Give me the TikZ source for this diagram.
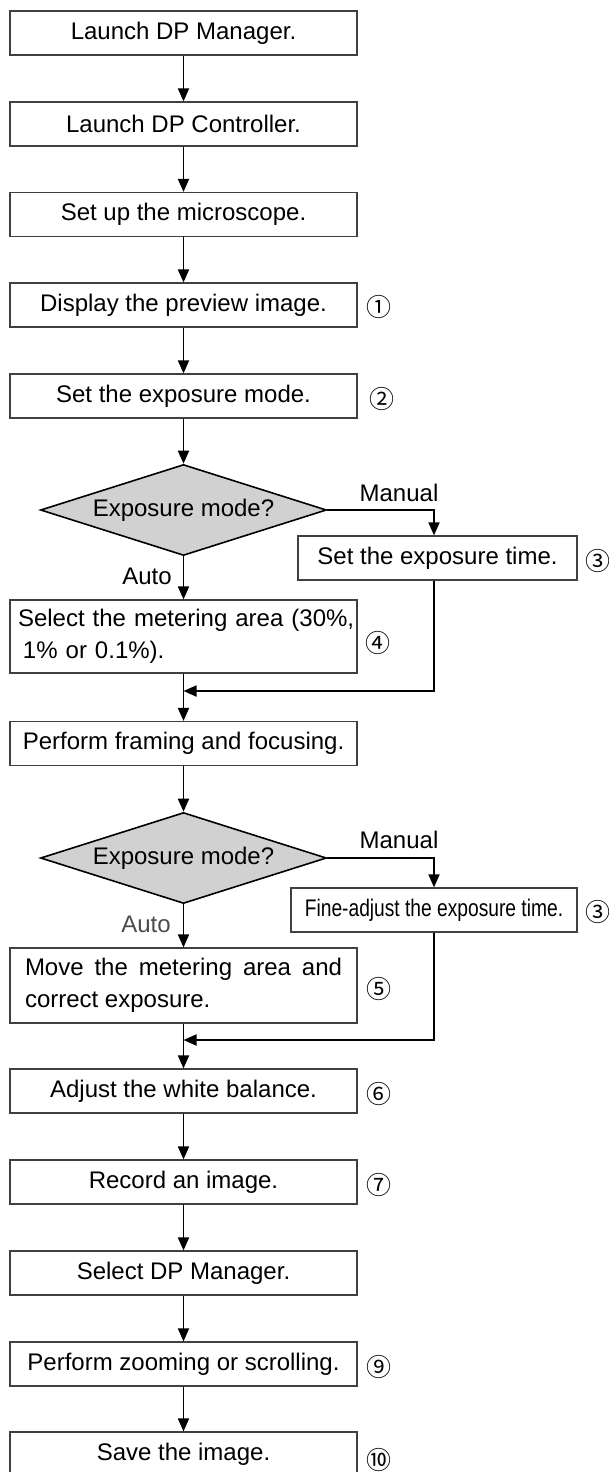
\documentclass[tikz,border=0pt]{standalone}
\usepackage{fontspec}
\setmainfont{Liberation Sans}
\newfontfamily\circfont{Noto Sans CJK JP}
\newfontfamily\condfont[FakeStretch=0.8]{Liberation Sans}
\usetikzlibrary{arrows.meta,shapes.geometric}
\tikzset{
  stepbox/.style={draw=black!75, line width=1.2pt, fill=white, minimum width=347pt, minimum height=44pt, inner sep=0pt, align=center},
  sidebox/.style={draw=black!75, line width=1.2pt, fill=white, minimum height=44pt, inner sep=0pt, align=center},
  decide/.style={diamond, draw=black, line width=1.6pt, fill=black!18, minimum width=286pt, minimum height=91pt, inner sep=0pt, aspect=3.14},
  arr/.style={line width=1.8pt, -{Triangle[width=11pt,length=13pt]}},
  circnum/.style={font=\circfont\fontsize{25}{25}\selectfont, inner sep=0pt},
  lbl/.style={inner sep=0pt}
}
\hfuzz=20pt
\begin{document}
\begin{tikzpicture}[x=1pt,y=-1pt,font=\fontsize{24}{32}\selectfont]
\useasboundingbox (0,0) rectangle (609,1472);
\clip (0,0) rectangle (609,1472);
\fill[white] (0,0) rectangle (609,1472);
% main column
\node[stepbox] (b1) at (183.5,33) {Launch DP Manager.};
\node[stepbox] (b2) at (183.5,124) {Launch DP Controller.};
\node[stepbox] (b3) at (183.5,214.5) {Set up the microscope.};
\node[stepbox] (b4) at (183.5,305) {Display the preview image.};
\node[stepbox] (b5) at (183.5,396) {Set the exposure mode.};
\node[decide] (d1) at (183.5,510) {Exposure mode?};
\node[sidebox, minimum width=279pt] (t1) at (437.5,558) {Set the exposure time.};
\node[stepbox, minimum height=73pt, text width=331pt, align=left] (s1) at (183.5,636.5) {\mbox{Select the metering area (30\%,}\\\hspace*{5pt}1\% or 0.1\%).};
\node[stepbox] (p1) at (183.5,743.5) {Perform framing and focusing.};
\node[decide] (d2) at (183.5,858) {Exposure mode?};
\node[sidebox, minimum width=286pt] (f1) at (434,910) {\condfont Fine-adjust the exposure time.};
\node[stepbox, minimum height=75pt, text width=317pt, align=justify] (m5) at (183.5,985.5) {Move the metering area and correct exposure.};
\node[stepbox] (a1) at (183.5,1091) {Adjust the white balance.};
\node[stepbox] (r1) at (183.5,1182) {Record an image.};
\node[stepbox] (sd) at (183.5,1273) {Select DP Manager.};
\node[stepbox] (z1) at (183.5,1364) {Perform zooming or scrolling.};
\node[stepbox] (sv) at (183.5,1454) {Save the image.};
% coordinates
\coordinate (c1) at (434,0);
\coordinate (j1) at (183.5,691);
\coordinate (j2) at (183.5,1040);
% connectors
\draw[arr] (b1) -- (b2);
\draw[arr] (b2) -- (b3);
\draw[arr] (b3) -- (b4);
\draw[arr] (b4) -- (b5);
\draw[arr] (b5) -- (d1.north);
\draw[arr] (d1.east) -| (c1 |- t1.north);
\draw[arr] (d1.south) -- (s1.north);
\draw[arr] (c1 |- t1.south) |- (j1);
\draw[arr] (s1.south) -- (p1.north);
\draw[arr] (p1) -- (d2.north);
\draw[arr] (d2.east) -| (c1 |- f1.north);
\draw[arr] (d2.south) -- (m5.north);
\draw[arr] (c1 |- f1.south) |- (j2);
\draw[arr] (m5.south) -- (a1.north);
\draw[arr] (a1) -- (r1);
\draw[arr] (r1) -- (sd);
\draw[arr] (sd) -- (z1);
\draw[arr] (z1) -- (sv);
% labels
\node[lbl] (lm1) at (399,493) {Manual};
\node[lbl] (la1) at (147,576) {Auto};
\node[lbl] (lm2) at (399,840) {Manual};
\node[lbl, text=black!70] (la2) at (146,924) {Auto};
% step numbers
\node[circnum] (n1) at (379,307) {①};
\node[circnum] (n2) at (382,399) {②};
\node[circnum] (n3) at (598,561) {③};
\node[circnum] (n4) at (378,643) {④};
\node[circnum] (n3b) at (598,912) {③};
\node[circnum] (n5) at (379,989) {⑤};
\node[circnum] (n6) at (379,1094) {⑥};
\node[circnum] (n7) at (379,1185) {⑦};
\node[circnum] (n9) at (379,1367) {⑨};
\node[circnum] (n10) at (379,1460) {⑩};
\end{tikzpicture}
\end{document}
